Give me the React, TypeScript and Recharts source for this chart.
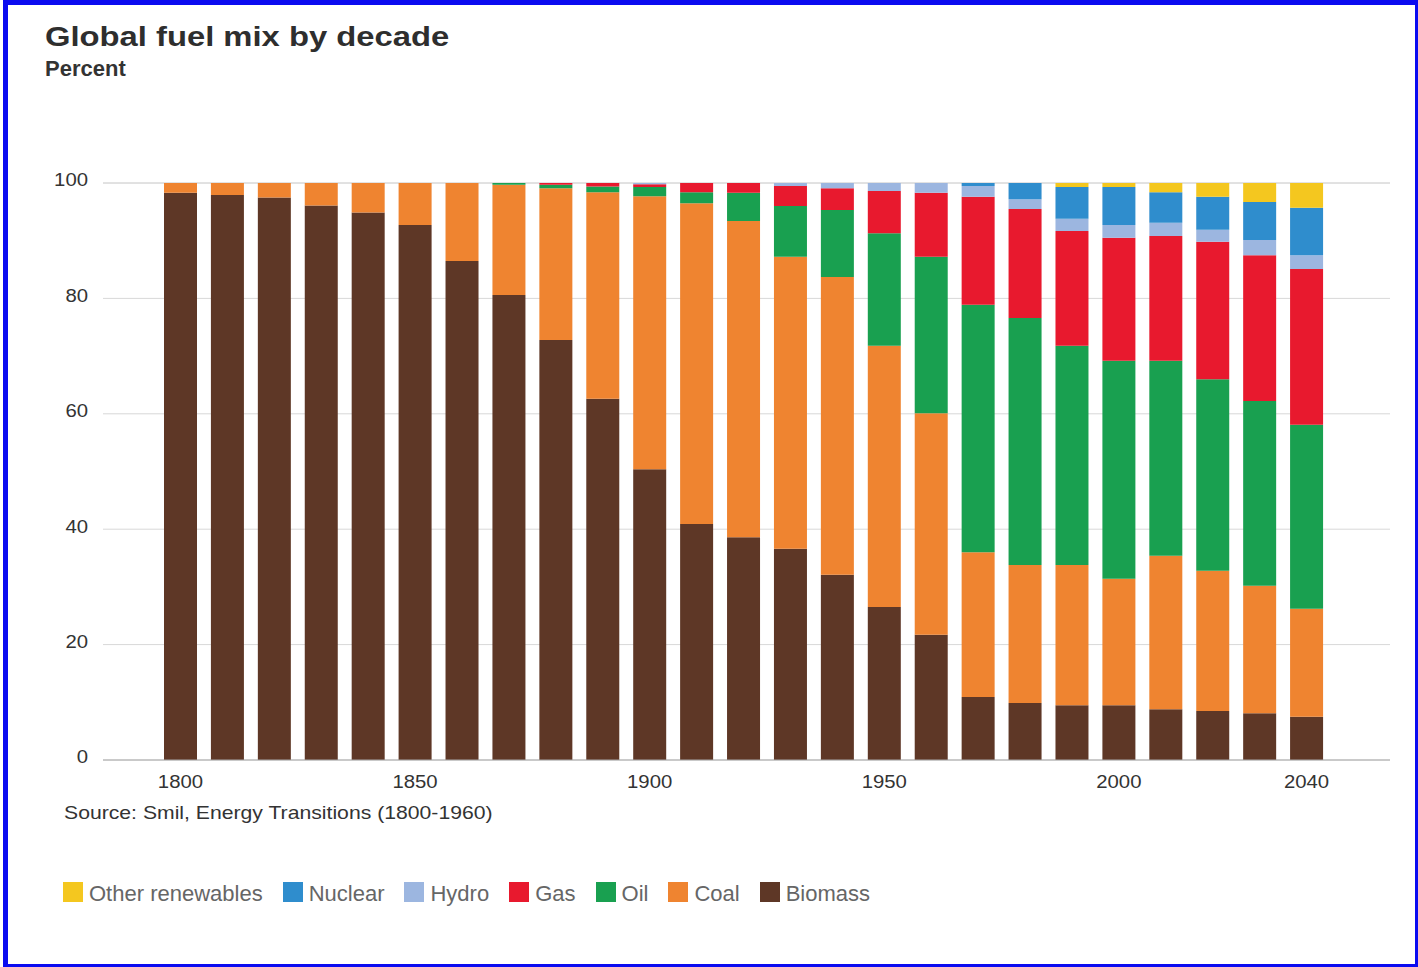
import { BarChart, Bar, XAxis, YAxis, CartesianGrid } from "recharts";

// ─── Data (percent of global primary energy) ──────────────────────────────────

const decades = [
  1800, 1810, 1820, 1830, 1840, 1850, 1860, 1870, 1880, 1890, 1900, 1910, 1920,
  1930, 1940, 1950, 1960, 1970, 1980, 1990, 2000, 2010, 2020, 2030, 2040,
];

const biomass = [
  98.3, 97.9, 97.5, 96.1, 94.9, 92.7, 86.5, 80.6, 72.8, 62.6, 50.4, 40.9, 38.6,
  36.6, 32.1, 26.5, 21.7, 10.9, 9.9, 9.5, 9.5, 8.8, 8.5, 8.1, 7.5,
];
const coal = [
  1.7, 2.1, 2.5, 3.9, 5.1, 7.3, 13.5, 19.1, 26.3, 35.8, 47.3, 55.6, 54.8, 50.6,
  51.6, 45.3, 38.4, 25.1, 23.9, 24.3, 21.9, 26.6, 24.3, 22.1, 18.7,
];
const oil = [
  0, 0, 0, 0, 0, 0, 0, 0.3, 0.6, 1.0, 1.6, 1.9, 4.9, 8.8, 11.6, 19.5, 27.1, 42.9,
  42.8, 38.0, 37.8, 33.8, 33.2, 32.0, 31.9,
];
const gas = [
  0, 0, 0, 0, 0, 0, 0, 0, 0.3, 0.6, 0.5, 1.6, 1.7, 3.5, 3.8, 7.3, 11.1, 18.7,
  18.9, 19.9, 21.3, 21.6, 23.8, 25.3, 27.0,
];
const hydro = [
  0, 0, 0, 0, 0, 0, 0, 0, 0, 0, 0.2, 0, 0, 0.5, 0.9, 1.4, 1.7, 1.9, 1.7, 2.1,
  2.2, 2.3, 2.1, 2.6, 2.4,
];
const nuclear = [
  0, 0, 0, 0, 0, 0, 0, 0, 0, 0, 0, 0, 0, 0, 0, 0, 0, 0.5, 2.8, 5.5, 6.6, 5.3,
  5.7, 6.6, 8.2,
];
const otherRenewables = [
  0, 0, 0, 0, 0, 0, 0, 0, 0, 0, 0, 0, 0, 0, 0, 0, 0, 0, 0, 0.7, 0.7, 1.6, 2.4,
  3.3, 4.3,
];

const xTickLabels = [1800, 1850, 1900, 1950, 2000, 2040];
const yTicks = [0, 20, 40, 60, 80, 100];

// stacking order, bottom to top
const series = [
  { key: "biomass", name: "Biomass", values: biomass, color: "#5e3726" },
  { key: "coal", name: "Coal", values: coal, color: "#ef8430" },
  { key: "oil", name: "Oil", values: oil, color: "#19a050" },
  { key: "gas", name: "Gas", values: gas, color: "#e8192e" },
  { key: "hydro", name: "Hydro", values: hydro, color: "#9cb6e0" },
  { key: "nuclear", name: "Nuclear", values: nuclear, color: "#2f8dcd" },
  { key: "other", name: "Other renewables", values: otherRenewables, color: "#f4c71f" },
];

const rows = decades.map((decade, i) => {
  const row: Record<string, number> = { decade };
  series.forEach((s) => (row[s.key] = s.values[i]));
  return row;
});

// ─── Styles ──────────────────────────────────────────────────────────────────

const FONT = "'Liberation Sans', Arial, sans-serif";
// the reference is slightly stretched horizontally
const STRETCH = 1.13;

function XTick(props: any) {
  const { x, y, payload } = props;
  if (!xTickLabels.includes(payload.value)) return null;
  return (
    <text
      transform={`translate(${x},${y}) scale(${STRETCH},1)`}
      dy="0.71em"
      textAnchor="middle"
      fontFamily={FONT}
      fontSize={18}
      fill="#333"
    >
      {payload.value}
    </text>
  );
}

function YTick(props: any) {
  const { x, y, payload } = props;
  return (
    <text
      transform={`translate(${x},${y - 3}) scale(${STRETCH},1)`}
      dy="0.355em"
      textAnchor="end"
      fontFamily={FONT}
      fontSize={18}
      fill="#333"
    >
      {payload.value}
    </text>
  );
}

export default function App() {
  return (
    <div
      style={{
        position: "absolute",
        left: 0,
        top: 0,
        width: 1418,
        height: 967,
        background: "#fff",
        fontFamily: FONT,
        overflow: "hidden",
      }}
    >
      {/* blue frame round the picture */}
      <div
        style={{
          position: "absolute",
          left: 3,
          top: 0,
          width: 1415,
          height: 967,
          boxSizing: "border-box",
          borderStyle: "solid",
          borderColor: "#0b0bf0",
          borderWidth: "5px 3px 3px 5px",
        }}
      />

      <div
        style={{
          position: "absolute",
          left: 45,
          top: 23,
          fontSize: 28,
          lineHeight: 1,
          fontWeight: "bold",
          color: "#2e2e2e",
          whiteSpace: "nowrap",
          transform: "scaleX(1.17)",
          transformOrigin: "left",
        }}
      >
        Global fuel mix by decade
      </div>
      <div
        style={{
          position: "absolute",
          left: 45,
          top: 58,
          fontSize: 22,
          lineHeight: 1,
          fontWeight: "bold",
          color: "#333",
          whiteSpace: "nowrap",
        }}
      >
        Percent
      </div>

      <div style={{ position: "absolute", left: 0, top: 0 }}>
        <BarChart
          width={1418}
          height={800}
          data={rows}
          margin={{ top: 183, right: 28, bottom: 10, left: 0 }}
        >
          <CartesianGrid vertical={false} stroke="#d8d8d8" />
          <XAxis
            dataKey="decade"
            interval={0}
            height={30}
            padding={{ left: 54, right: 60 }}
            tickLine={false}
            axisLine={{ stroke: "#a8a8a8" }}
            tickMargin={9}
            tick={<XTick />}
          />
          <YAxis
            domain={[0, 100]}
            ticks={yTicks}
            width={103}
            tickLine={false}
            axisLine={false}
            tickMargin={9}
            tick={<YTick />}
          />
          {series.map((s) => (
            <Bar
              key={s.key}
              dataKey={s.key}
              name={s.name}
              stackId="mix"
              fill={s.color}
              barSize={33}
              isAnimationActive={false}
            />
          ))}
        </BarChart>
      </div>

      <div
        style={{
          position: "absolute",
          left: 64,
          top: 804,
          fontSize: 18.5,
          lineHeight: 1,
          color: "#333",
          whiteSpace: "nowrap",
          transform: "scaleX(1.145)",
          transformOrigin: "left",
        }}
      >
        Source: Smil, Energy Transitions (1800-1960)
      </div>

      {/* legend, top of the stack first */}
      <div
        style={{
          position: "absolute",
          left: 63,
          top: 882,
          display: "flex",
          alignItems: "flex-start",
          whiteSpace: "nowrap",
        }}
      >
        {[...series].reverse().map((s) => (
          <div
            key={s.key}
            style={{ display: "flex", alignItems: "flex-start", marginRight: 20 }}
          >
            <div style={{ width: 20, height: 20, background: s.color, marginRight: 6 }} />
            <span
              style={{
                fontSize: 22,
                lineHeight: "20px",
                color: "#666",
                position: "relative",
                top: 2,
              }}
            >
              {s.name}
            </span>
          </div>
        ))}
      </div>
    </div>
  );
}
